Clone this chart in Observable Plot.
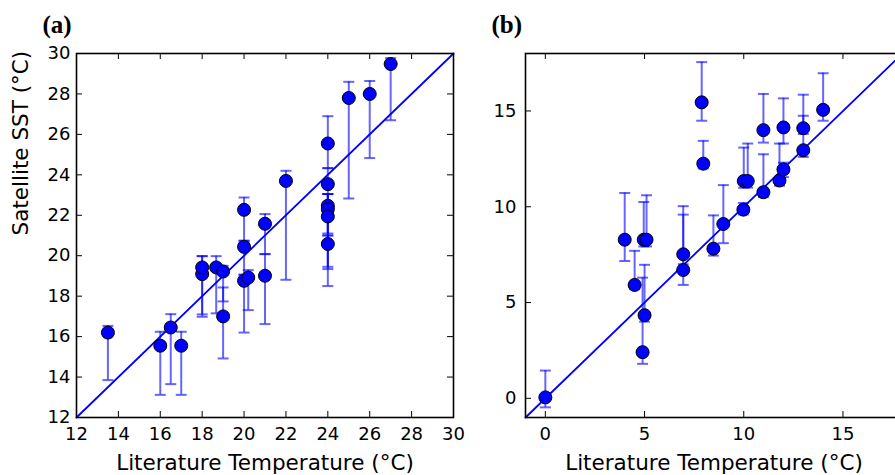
<!DOCTYPE html>
<html><head><meta charset="utf-8">
<script src="https://cdn.jsdelivr.net/npm/d3@7"></script>
<script src="https://cdn.jsdelivr.net/npm/@observablehq/plot@0.6"></script>
<style>
html,body{margin:0;padding:0;background:#fff;}
#wrap{position:relative;width:895px;height:475px;overflow:hidden;background:#fff;}
.panel{position:absolute;top:0;width:473px;height:475px;}
.panel svg{max-width:none !important;background:transparent !important;}
</style></head><body><div id="wrap"><div id="pa" class="panel" style="left:0px"></div><div id="pb" class="panel" style="left:449px"></div></div>
<script>
// Panel (a)
const litA = [13.5, 16, 16.5, 17, 18, 18, 18.67, 19, 19, 20, 20, 20, 20.2, 21, 21, 22, 24, 24, 24, 24, 24, 24, 25, 26, 27];
const satA = [16.2, 15.55, 16.45, 15.55, 19.09, 19.42, 19.42, 19.22, 17.0, 22.27, 20.44, 18.76, 18.92, 21.58, 19.01, 23.7, 25.55, 23.54, 22.47, 22.3, 21.94, 20.58, 27.8, 28.0, 29.48];
const loA  = [13.85, 13.12, 13.65, 13.12, 16.98, 17.1, 17.15, 17.74, 14.92, 20.74, 19.06, 16.2, 17.31, 20.08, 16.62, 18.81, 24.33, 21.1, 19.45, 19.34, 21.0, 18.5, 22.83, 24.83, 26.7];
const hiA  = [16.53, 16.24, 17.11, 16.24, 19.98, 19.98, 19.98, 19.5, 18.43, 22.88, 20.74, 19.06, 19.29, 22.06, 20.08, 24.2, 26.9, 24.33, 23.05, 23.05, 23.05, 21.0, 28.6, 28.64, 29.77];
const ticksA = [12, 14, 16, 18, 20, 22, 24, 26, 28, 30];
const domainA = [12, 30];

// Panel (b)
const litB = [0, 4, 4.5, 4.96, 5.1, 5, 4.9, 6.95, 6.95, 7.88, 7.96, 8.47, 8.97, 9.98, 10.0, 10.2, 10.99, 10.99, 11.8, 12.0, 12.0, 13.0, 13.0, 14.0];
const satB = [0.05, 8.28, 5.92, 8.28, 8.28, 4.34, 2.41, 7.52, 6.7, 15.45, 12.25, 7.81, 9.1, 9.85, 11.34, 11.34, 14.0, 10.76, 11.37, 14.14, 11.95, 14.1, 12.95, 15.06];
const loB  = [-0.47, 7.17, 5.7, 7.93, 7.93, 4.0, 1.8, 7.0, 5.92, 14.49, 12.0, 7.45, 8.1, 9.6, 10.99, 11.0, 13.35, 10.5, 11.1, 13.3, 11.55, 13.8, 12.6, 14.49];
const hiB  = [1.45, 10.72, 7.7, 10.25, 10.6, 6.97, 6.3, 10.03, 9.59, 17.55, 13.44, 9.55, 11.13, 10.2, 13.09, 13.3, 15.89, 12.74, 13.3, 15.66, 12.3, 15.85, 14.75, 16.97];
const ticksB = [0, 5, 10, 15];
const domainB = [-1, 18];

const xTitle = "Literature Temperature (°C)";
const yTitle = "Satellite SST (°C)";

function makePanel({lit, sat, lo, hi, dom, ticks, tag, yLabel, yPad}) {
  const data = lit.map((x, i) => ({x, y: sat[i], lo: lo[i], hi: hi[i]}));
  const W = 377, H = 364, mL = 76, mT = 53, mR = 20, mB = 58;
  const span = dom[1] - dom[0];
  const kx = span / W * 6, ky = span / H * 6, cap = span / W * 5.5;
  const blue = "#0000ff";
  return Plot.plot({
    width: mL + W + mR, height: mT + H + mB,
    marginLeft: mL, marginTop: mT, marginRight: mR, marginBottom: mB,
    x: {domain: dom}, y: {domain: dom},
    style: {fontFamily: "DejaVu Sans", fontSize: "18px", color: "black", background: "transparent", overflow: "visible", maxWidth: "none"},
    marks: [
      Plot.line(dom, {x: d => d, y: d => d, stroke: blue, strokeWidth: 1.8}),
      Plot.ruleX(data, {x: "x", y1: "lo", y2: "hi", stroke: blue, strokeOpacity: 0.6, strokeWidth: 2}),
      Plot.link(data, {x1: d => d.x - cap, x2: d => d.x + cap, y1: "lo", y2: "lo", stroke: blue, strokeOpacity: 0.6, strokeWidth: 2}),
      Plot.link(data, {x1: d => d.x - cap, x2: d => d.x + cap, y1: "hi", y2: "hi", stroke: blue, strokeOpacity: 0.6, strokeWidth: 2}),
      Plot.dot(data, {x: "x", y: "y", r: 6.5, fill: blue, stroke: "black", strokeWidth: 1}),
      Plot.ruleX(ticks, {x: d => d, y1: dom[0], y2: dom[0] + ky, stroke: "black"}),
      Plot.ruleX(ticks, {x: d => d, y1: dom[1], y2: dom[1] - ky, stroke: "black"}),
      Plot.ruleY(ticks, {y: d => d, x1: dom[0], x2: dom[0] + kx, stroke: "black"}),
      Plot.ruleY(ticks, {y: d => d, x1: dom[1], x2: dom[1] - kx, stroke: "black"}),
      Plot.axisX(ticks, {anchor: "bottom", tickSize: 0, tickPadding: 10, label: null, fontSize: 18, tickFormat: d => String(d)}),
      Plot.axisY(ticks, {anchor: "left", tickSize: 0, tickPadding: yPad, label: null, fontSize: 18, tickFormat: d => String(d)}),
      Plot.frame({stroke: "black", strokeWidth: 1.6}),
      Plot.text([xTitle], {text: d => d, frameAnchor: "bottom", lineAnchor: "middle", dy: 45.5, fontSize: 21.5}),
      yLabel ? Plot.text([yLabel], {text: d => d, frameAnchor: "left", lineAnchor: "middle", dx: -55, rotate: -90, fontSize: 21.5}) : null,
      Plot.text([tag], {text: d => d, frameAnchor: "top-left", lineAnchor: "middle", dx: -34, dy: -29, textAnchor: "start", fontSize: 25, fontWeight: "bold", fontFamily: "Liberation Serif"})
    ]
  });
}

document.getElementById("pa").appendChild(makePanel({lit: litA, sat: satA, lo: loA, hi: hiA, dom: domainA, ticks: ticksA, tag: "(a)", yLabel: yTitle, yPad: 6}));
document.getElementById("pb").appendChild(makePanel({lit: litB, sat: satB, lo: loB, hi: hiB, dom: domainB, ticks: ticksB, tag: "(b)", yLabel: null, yPad: 9}));
</script>
</body></html>
